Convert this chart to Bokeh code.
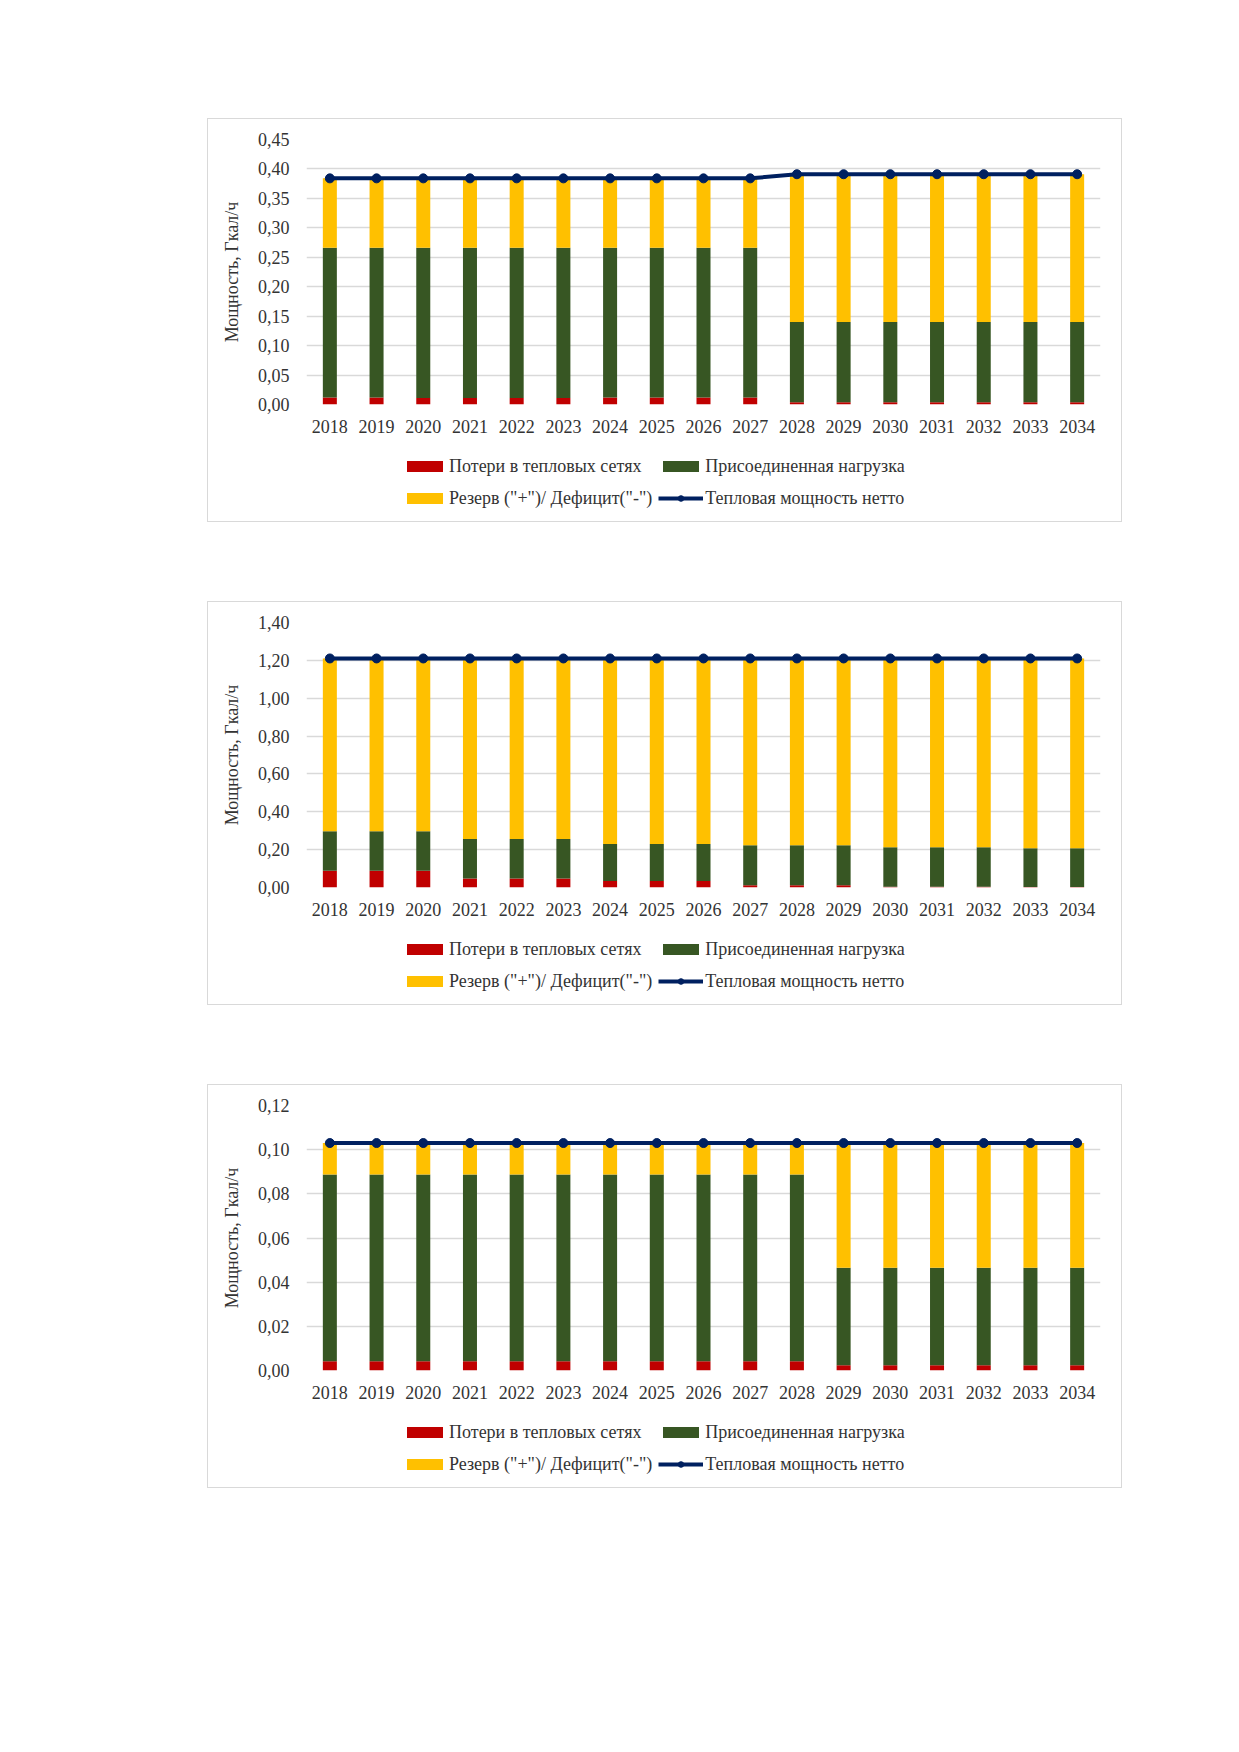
from bokeh.plotting import figure
from bokeh.models import (ColumnDataSource, Range1d, FactorRange, FixedTicker,
                          CustomJSTickFormatter, Legend, LegendItem, Spacer)
from bokeh.layouts import column, row
from bokeh.embed import file_html
from bokeh.resources import INLINE

years = ["2018", "2019", "2020", "2021", "2022", "2023", "2024", "2025", "2026",
         "2027", "2028", "2029", "2030", "2031", "2032", "2033", "2034"]

series_names = ["Потери в тепловых сетях", "Присоединенная нагрузка",
                'Резерв ("+")/ Дефицит("-")', "Тепловая мощность нетто"]
y_axis_label = "Мощность, Гкал/ч"

# Chart 1
c1_loss = [0.012, 0.012, 0.011, 0.011, 0.011, 0.011, 0.012, 0.012, 0.012, 0.012,
           0.004, 0.004, 0.004, 0.004, 0.004, 0.004, 0.004]
c1_load = [0.254, 0.254, 0.255, 0.255, 0.255, 0.255, 0.254, 0.254, 0.254, 0.254,
           0.136, 0.136, 0.136, 0.136, 0.136, 0.136, 0.136]
c1_reserve = [0.118, 0.118, 0.118, 0.118, 0.118, 0.118, 0.118, 0.118, 0.118, 0.118,
              0.251, 0.251, 0.251, 0.251, 0.251, 0.251, 0.251]
c1_net = [0.384, 0.384, 0.384, 0.384, 0.384, 0.384, 0.384, 0.384, 0.384, 0.384,
          0.391, 0.391, 0.391, 0.391, 0.391, 0.391, 0.391]
c1_ticks = [0.00, 0.05, 0.10, 0.15, 0.20, 0.25, 0.30, 0.35, 0.40, 0.45]

# Chart 2
c2_loss = [0.088, 0.088, 0.088, 0.048, 0.048, 0.048, 0.035, 0.035, 0.035,
           0.012, 0.012, 0.012, 0.004, 0.004, 0.004, 0.003, 0.003]
c2_load = [0.209, 0.209, 0.209, 0.208, 0.208, 0.208, 0.195, 0.195, 0.195,
           0.211, 0.211, 0.211, 0.208, 0.208, 0.208, 0.204, 0.204]
c2_reserve = [0.913, 0.913, 0.913, 0.954, 0.954, 0.954, 0.980, 0.980, 0.980,
              0.987, 0.987, 0.987, 0.998, 0.998, 0.998, 1.003, 1.003]
c2_net = [1.21, 1.21, 1.21, 1.21, 1.21, 1.21, 1.21, 1.21, 1.21,
          1.21, 1.21, 1.21, 1.21, 1.21, 1.21, 1.21, 1.21]
c2_ticks = [0.00, 0.20, 0.40, 0.60, 0.80, 1.00, 1.20, 1.40]

# Chart 3
c3_loss = [0.0042, 0.0042, 0.0042, 0.0042, 0.0042, 0.0042, 0.0042, 0.0042, 0.0042,
           0.0042, 0.0042, 0.0024, 0.0024, 0.0024, 0.0024, 0.0024, 0.0024]
c3_load = [0.0846, 0.0846, 0.0846, 0.0846, 0.0846, 0.0846, 0.0846, 0.0846, 0.0846,
           0.0846, 0.0846, 0.0441, 0.0441, 0.0441, 0.0441, 0.0441, 0.0441]
c3_reserve = [0.0142, 0.0142, 0.0142, 0.0142, 0.0142, 0.0142, 0.0142, 0.0142, 0.0142,
              0.0142, 0.0142, 0.0565, 0.0565, 0.0565, 0.0565, 0.0565, 0.0565]
c3_net = [0.103, 0.103, 0.103, 0.103, 0.103, 0.103, 0.103, 0.103, 0.103,
          0.103, 0.103, 0.103, 0.103, 0.103, 0.103, 0.103, 0.103]
c3_ticks = [0.00, 0.02, 0.04, 0.06, 0.08, 0.10, 0.12]

COL_LOSS = "#C00000"
COL_LOAD = "#375623"
COL_RES = "#FFC000"
COL_NET = "#002060"
TXT = "#333333"
FONT = "Liberation Serif"
FS = "18px"
W = 913


def draw_series(fig, src):
    bars = fig.vbar_stack(["loss", "load", "reserve"], x="year", width=0.3,
                          fill_color=[COL_LOSS, COL_LOAD, COL_RES],
                          line_color=None, source=src)
    ln = fig.line("year", "net", source=src, line_color=COL_NET, line_width=4)
    pts = fig.scatter("year", "net", source=src, size=9,
                      fill_color=COL_NET, line_color=COL_NET)
    return bars, ln, pts


def make_chart(loss, load, reserve, net, ticks):
    src = ColumnDataSource(dict(year=years, loss=loss, load=load,
                                reserve=reserve, net=net))
    p = figure(x_range=FactorRange(factors=years, range_padding=0),
               y_range=Range1d(0, ticks[-1]),
               frame_width=794, frame_height=265,
               min_border_left=98, min_border_right=21,
               min_border_top=20, min_border_bottom=40,
               output_backend="svg", toolbar_location=None,
               background_fill_color="white", border_fill_color="white",
               outline_line_color=None)
    draw_series(p, src)

    p.xgrid.grid_line_color = None
    p.ygrid.grid_line_color = "#d9d9d9"
    p.ygrid.grid_line_width = 1.3
    p.ygrid.level = "underlay"

    ya = p.yaxis[0]
    ya.ticker = FixedTicker(ticks=ticks)
    ya.formatter = CustomJSTickFormatter(code="return tick.toFixed(2).replace('.', ',');")
    ya.axis_line_color = None
    ya.major_tick_line_color = None
    ya.minor_tick_line_color = None
    ya.major_label_standoff = 11
    ya.major_label_text_font = FONT
    ya.major_label_text_font_size = FS
    ya.major_label_text_color = TXT
    ya.axis_label = y_axis_label
    ya.axis_label_text_font = FONT
    ya.axis_label_text_font_size = FS
    ya.axis_label_text_font_style = "normal"
    ya.axis_label_text_color = TXT
    ya.axis_label_standoff = 13

    xa = p.xaxis[0]
    xa.axis_line_color = None
    xa.major_tick_line_color = None
    xa.minor_tick_line_color = None
    xa.major_label_standoff = 9
    xa.major_label_text_font = FONT
    xa.major_label_text_font_size = FS
    xa.major_label_text_color = TXT

    # legend strip below the chart, inside the same bordered box; its copy of
    # the series lies outside its ranges, so only the legend itself shows
    lg = figure(width=W, height=77,
                x_range=FactorRange(factors=["legend"]),
                y_range=Range1d(1000, 1001),
                min_border=0, x_axis_location=None, y_axis_location=None,
                output_backend="svg", toolbar_location=None,
                background_fill_color="white", border_fill_color="white",
                outline_line_color=None)
    lg.grid.visible = False
    bars, ln, pts = draw_series(lg, src)

    legend = Legend(items=[
        LegendItem(label=series_names[0], renderers=[bars[0]]),
        LegendItem(label=series_names[1], renderers=[bars[1]]),
        LegendItem(label=series_names[2], renderers=[bars[2]]),
        LegendItem(label=series_names[3], renderers=[ln, pts]),
    ], orientation="horizontal", ncols=2, location=(96, 10),
        glyph_width=45, glyph_height=14, label_standoff=2,
        label_height=26, spacing=6, padding=6, margin=0,
        border_line_color=None, background_fill_alpha=0,
        label_text_font=FONT, label_text_font_size=FS,
        label_text_color=TXT)
    lg.add_layout(legend, "center")

    box = column(p, lg, spacing=0)
    box.styles = {"border": "1px solid #d9d9d9"}
    return box


b1 = make_chart(c1_loss, c1_load, c1_reserve, c1_net, c1_ticks)
b2 = make_chart(c2_loss, c2_load, c2_reserve, c2_net, c2_ticks)
b3 = make_chart(c3_loss, c3_load, c3_reserve, c3_net, c3_ticks)

layout = column(
    Spacer(height=118, width=10),
    row(Spacer(width=207, height=10), b1),
    Spacer(height=79, width=10),
    row(Spacer(width=207, height=10), b2),
    Spacer(height=79, width=10),
    row(Spacer(width=207, height=10), b3),
)

open("out.html", "w").write(file_html(layout, INLINE))
